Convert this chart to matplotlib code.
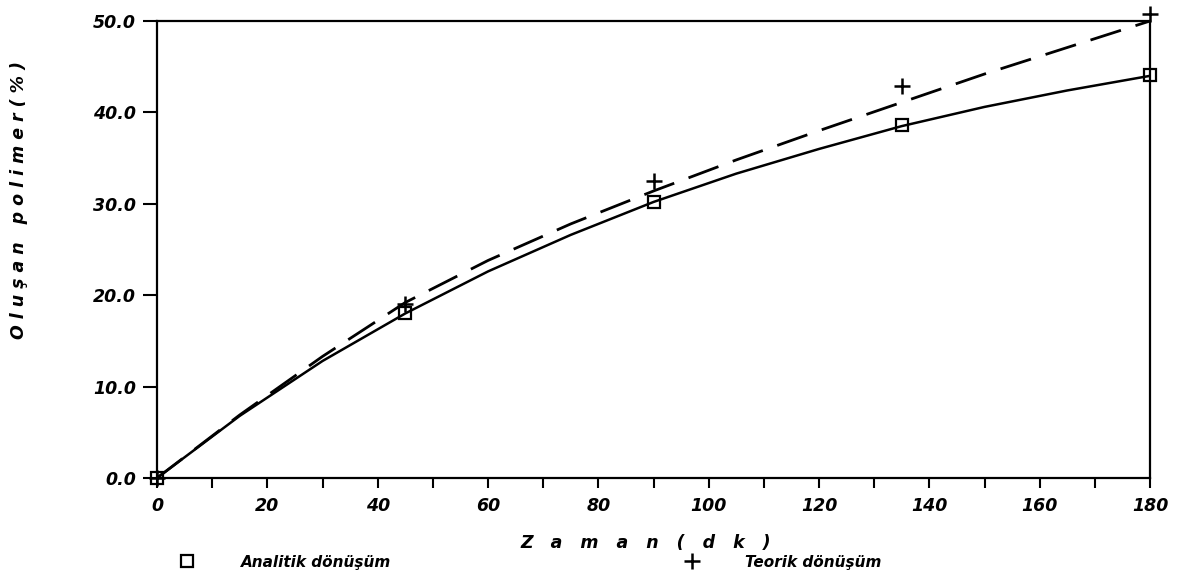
import matplotlib.pyplot as plt
from matplotlib.lines import Line2D

# measured points
t_pts = [0, 45, 90, 135, 180]
analitik_pts = [0.0, 18.0, 30.2, 38.6, 44.1]
teorik_pts = [0.0, 19.0, 32.5, 42.9, 50.8]

# curves
t_curve = [0, 15, 30, 45, 60, 75, 90, 105, 120, 135, 150, 165, 180]
analitik_curve = [0.0, 6.8, 12.8, 18.0, 22.6, 26.6, 30.2, 33.3, 36.0, 38.5, 40.6, 42.4, 44.0]
teorik_curve = [0.0, 6.9, 13.3, 19.2, 23.8, 27.8, 31.4, 34.8, 38.0, 41.1, 44.2, 47.1, 50.0]

x_ticks = list(range(0, 181, 10))
x_labels = [str(v) if v % 20 == 0 else '' for v in x_ticks]
y_ticks = [0, 10, 20, 30, 40, 50]
y_labels = ['0.0', '10.0', '20.0', '30.0', '40.0', '50.0']

font = dict(style='italic', weight='bold', family='DejaVu Sans')

fig = plt.figure(figsize=(11.88, 5.8), dpi=100)
ax = fig.add_axes([157/1188, 1-478/580, (1150-157)/1188, (478-21)/580])

ax.plot(t_curve, analitik_curve, color='black', lw=1.8)
ax.plot(t_curve, teorik_curve, color='black', lw=2.0, dashes=(11.5, 5.5))
ax.plot(t_pts, analitik_pts, ls='none', marker='s', ms=8, mfc='none',
        mec='black', mew=1.6, clip_on=False)
ax.plot(t_pts, teorik_pts, ls='none', marker='+', ms=11, mec='black',
        mew=1.8, clip_on=False)

ax.set_xlim(0, 180)
ax.set_ylim(0, 50)
ax.set_xticks(x_ticks)
ax.set_xticklabels(x_labels, fontsize=12.5, **font)
ax.set_yticks(y_ticks)
ax.set_yticklabels(y_labels, fontsize=12.5, **font)
ax.tick_params(axis='x', direction='out', length=7, width=1.5, pad=7)
ax.tick_params(axis='y', direction='out', length=10, width=1.5, pad=5)
for s in ax.spines.values():
    s.set_linewidth(1.6)

fig.text(646/1188, 1-543/580, 'Z   a   m   a   n   (   d   k   )',
         ha='center', va='center', fontsize=12.5, **font)
fig.text(19/1188, 1-200/580, 'O l u ş a n   p o l i m e r ( % )', rotation=90,
         ha='center', va='center', fontsize=12.5, **font)

# legend row
handles = [Line2D([], [], ls='none', marker='s', ms=8, mfc='none', mec='black', mew=1.6),
           Line2D([], [], ls='none', marker='+', ms=11, mec='black', mew=1.8)]
fig.legend(handles, ['Analitik dönüşüm', 'Teorik dönüşüm'], ncol=2,
           loc='center left', bbox_to_anchor=(158/1188, 1-562/580), frameon=False,
           handletextpad=2.5, columnspacing=18.7, prop=dict(size=11, **font))

fig.savefig('out.png', dpi=100)
